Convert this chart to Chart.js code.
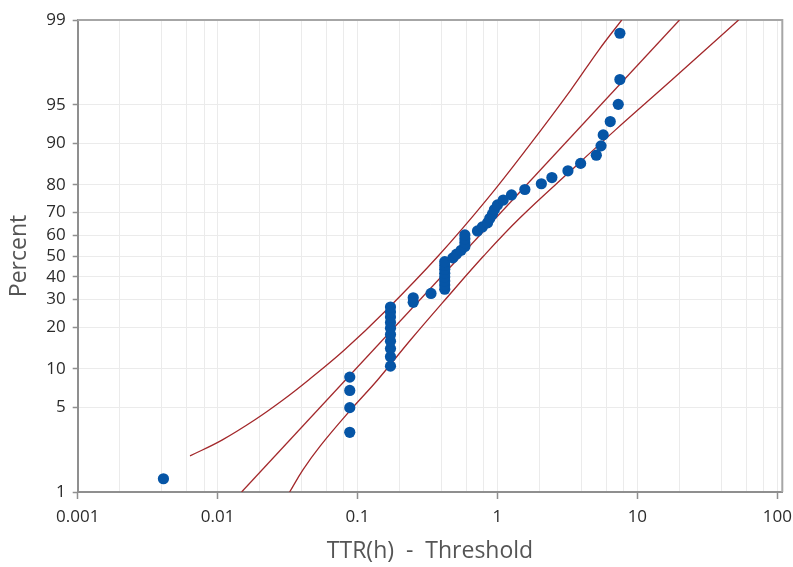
<!DOCTYPE html>
<html>
<head>
<meta charset="utf-8">
<script src="https://cdn.jsdelivr.net/npm/chart.js@4.4.0/dist/chart.umd.min.js"></script>
<style>
html,body{margin:0;padding:0;background:#fff;}
#wrap{width:793px;height:567px;}
</style>
</head>
<body>
<div id="wrap"><canvas id="canvas" width="793" height="567"></canvas></div>
<script>
// TTR(h) - Threshold, percent = median rank of each observation
var ttrHours = [0.0041,
    0.088, 0.088, 0.088, 0.088,
    0.172, 0.172, 0.172, 0.172, 0.172, 0.172, 0.172, 0.172, 0.172, 0.172,
    0.25, 0.25, 0.335,
    0.42, 0.42, 0.42, 0.42, 0.42, 0.42, 0.42, 0.42,
    0.48, 0.51, 0.55, 0.585, 0.585, 0.585, 0.585,
    0.72, 0.78, 0.85, 0.88, 0.92, 0.95, 1.0, 1.1, 1.26, 1.57,
    2.06, 2.45, 3.19, 3.93, 5.09, 5.5, 5.7, 6.4, 7.3, 7.5, 7.5];
var ttrPercent = [1.29,
    3.13, 4.96, 6.80, 8.64,
    10.48, 12.32, 14.15, 15.99, 17.83, 19.67, 21.51, 23.35, 25.18, 27.02,
    28.86, 30.70, 32.54,
    34.38, 36.21, 38.05, 39.89, 41.73, 43.57, 45.40, 47.24,
    49.08, 50.92, 52.76, 54.60, 56.43, 58.27, 60.11,
    61.95, 63.79, 65.63, 67.46, 69.30, 71.14, 72.98, 74.82, 76.65, 78.49,
    80.33, 82.17, 84.01, 85.85, 87.68, 89.52, 91.36, 93.20, 95.04, 96.88, 98.71];

// fitted line and the two confidence bands
var fitX = [0.01484, 20.0];
var fitP = [1, 99];
var upperBandX = [0.00635, 0.01074, 0.01837, 0.0293, 0.0447, 0.0805, 0.161, 0.377, 0.835, 1.70, 3.34, 5.30, 7.73];
var upperBandP = [2.0, 2.70, 3.94, 5.71, 8.21, 13.8, 25.9, 50, 74.9, 89.7, 96.2, 98.22, 99];
var lowerBandX = [0.0327, 0.0407, 0.0542, 0.0892, 0.139, 0.239, 0.421, 0.796, 1.445, 3.38, 6.98, 17.6, 52.9];
var lowerBandP = [1, 1.53, 2.42, 4.75, 8.21, 16.3, 29.8, 50, 67.7, 84.2, 92.1, 96.85, 99];

// axis ticks
var yTickLabels = [1, 5, 10, 20, 30, 40, 50, 60, 70, 80, 90, 95, 99];
var xTickValues = [0.001, 0.01, 0.1, 1, 10, 100];
var xTickLabels = ['0.001', '0.01', '0.1', '1', '10', '100'];

// probability scale of the plot (log-logistic paper)
function logit(p) {
    return Math.log(p / (100 - p));
}

function toPoints(xs, ps) {
    var pts = [];
    for (var i = 0; i < xs.length; i++) {
        pts.push({x: xs[i], y: logit(ps[i])});
    }
    return pts;
}

var gridColor = '#ebebeb';
var axisColor = '#8f8f8f';
var lineColor = '#a3282b';

var framePlugin = {
    id: 'frame',
    beforeDatasetsDraw: function(chart) {
        var a = chart.chartArea, ctx = chart.ctx;
        ctx.save();
        ctx.strokeStyle = '#a6a6a6';
        ctx.lineWidth = 2;
        ctx.beginPath();
        ctx.moveTo(a.left, a.top);
        ctx.lineTo(a.right, a.top);
        ctx.lineTo(a.right, a.bottom);
        ctx.stroke();
        ctx.restore();
    }
};

Chart.defaults.font.family = "'Open Sans', 'Noto Sans', sans-serif";

var ctx = document.getElementById('canvas').getContext('2d');
new Chart(ctx, {
    type: 'scatter',
    data: {
        datasets: [{
            data: toPoints(ttrHours, ttrPercent),
            backgroundColor: '#0655a6',
            borderWidth: 0,
            pointRadius: 5.6,
            order: 0
        }, {
            type: 'line',
            data: toPoints(fitX, fitP),
            borderColor: lineColor,
            borderWidth: 1.3,
            pointRadius: 0,
            fill: false,
            order: 1
        }, {
            type: 'line',
            data: toPoints(upperBandX, upperBandP),
            borderColor: lineColor,
            borderWidth: 1.3,
            pointRadius: 0,
            tension: 0.4,
            fill: false,
            order: 1
        }, {
            type: 'line',
            data: toPoints(lowerBandX, lowerBandP),
            borderColor: lineColor,
            borderWidth: 1.3,
            pointRadius: 0,
            tension: 0.4,
            fill: false,
            order: 1
        }]
    },
    options: {
        responsive: false,
        animation: false,
        layout: {padding: {top: 20, right: 10.7, left: 0, bottom: 0}},
        plugins: {legend: {display: false}, tooltip: {enabled: false}},
        scales: {
            x: {
                type: 'logarithmic',
                min: 0.001,
                max: 108.6,
                afterBuildTicks: function(scale) {
                    var t = [];
                    for (var d = 0; d < xTickValues.length; d++) {
                        t.push({value: xTickValues[d]});
                        if (d < xTickValues.length - 1) {
                            [2, 4, 6, 8].forEach(function(m) {
                                t.push({value: xTickValues[d] * m});
                            });
                        }
                    }
                    scale.ticks = t;
                },
                afterFit: function(scale) {
                    scale.height = 75;
                    scale.paddingLeft = 0;
                    scale.paddingRight = 0;
                },
                grid: {
                    color: gridColor,
                    tickLength: 7,
                    tickWidth: 1.5,
                    tickColor: function(c) {
                        return (c.tick && xTickValues.indexOf(c.tick.value) >= 0) ? axisColor : 'rgba(0,0,0,0)';
                    }
                },
                border: {color: axisColor, width: 2},
                ticks: {
                    autoSkip: false,
                    maxRotation: 0,
                    padding: 8,
                    color: '#2b2b2b',
                    font: {size: 17},
                    callback: function(value) {
                        var i = xTickValues.indexOf(value);
                        return i >= 0 ? xTickLabels[i] : '';
                    }
                },
                title: {
                    display: true,
                    text: 'TTR(h)  -  Threshold',
                    color: '#555',
                    font: {size: 23},
                    padding: {top: 0, bottom: 2}
                }
            },
            y: {
                type: 'linear',
                min: logit(1),
                max: logit(99),
                afterBuildTicks: function(scale) {
                    scale.ticks = yTickLabels.map(function(p) { return {value: logit(p)}; });
                },
                afterFit: function(scale) {
                    scale.width = 77.7;
                    scale.paddingTop = 0;
                    scale.paddingBottom = 0;
                },
                grid: {
                    color: gridColor,
                    tickLength: 5,
                    tickWidth: 1.5,
                    tickColor: axisColor
                },
                border: {color: axisColor, width: 2},
                ticks: {
                    autoSkip: false,
                    padding: 7,
                    color: '#2b2b2b',
                    font: {size: 17},
                    callback: function(value, index) {
                        return String(yTickLabels[index]);
                    }
                },
                title: {
                    display: true,
                    text: 'Percent',
                    color: '#555',
                    font: {size: 23},
                    padding: {top: 6, bottom: 0}
                }
            }
        }
    },
    plugins: [framePlugin]
});
</script>
</body>
</html>
